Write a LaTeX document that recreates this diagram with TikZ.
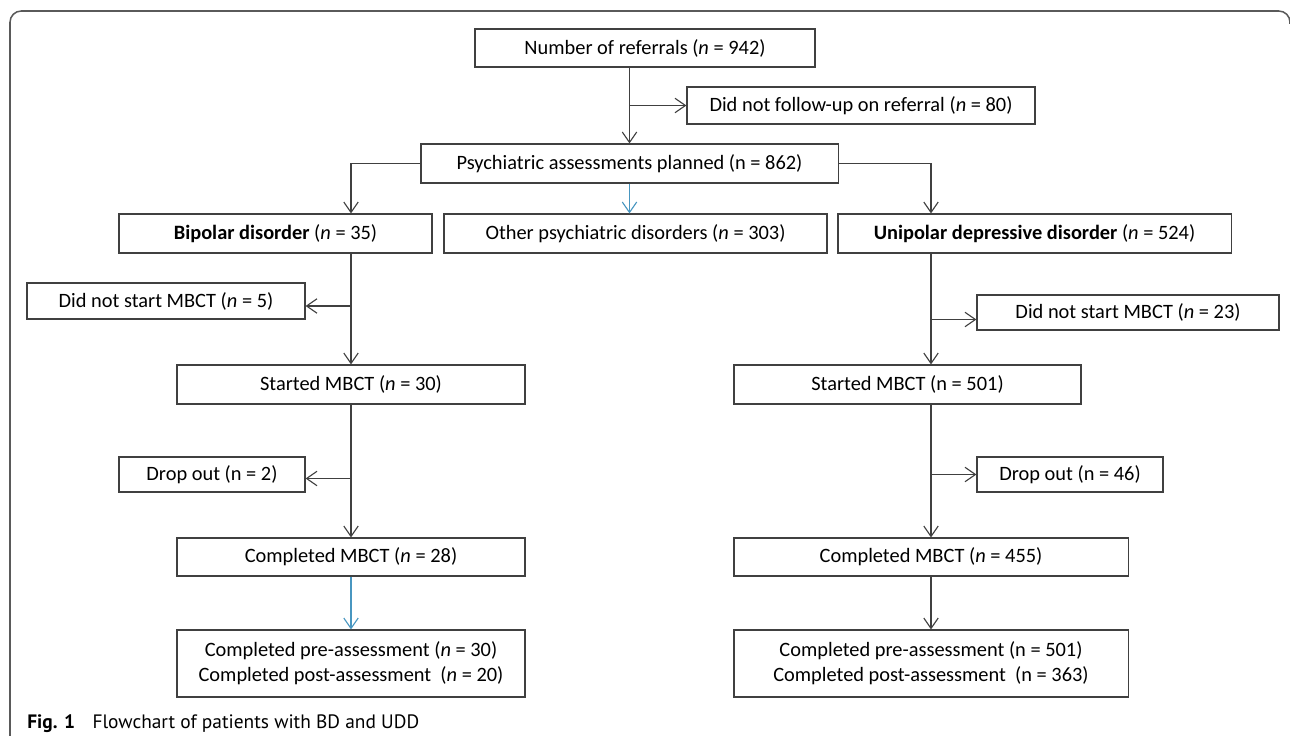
\documentclass[tikz,border=0pt]{standalone}
\usepackage{fontspec}
\setmainfont{Carlito}
\newfontfamily\captionfont{PT Sans}
\usepackage{tikz}
\usetikzlibrary{positioning,arrows.meta,calc}
\definecolor{linegray}{RGB}{64,64,64}
\definecolor{arrowblue}{RGB}{72,150,192}
\definecolor{framegray}{RGB}{90,90,90}

\begin{document}
\begin{tikzpicture}[x=0.025cm, y=-0.025cm,
    flowbox/.style={draw=linegray, line width=0.8pt, rectangle, inner sep=0pt, align=center, minimum height=0.975cm, font=\fontsize{14.5}{17.8}\selectfont},
    flowarrow/.style={draw=linegray, line width=0.8pt, -{Straight Barb[length=2.6mm,width=3.6mm]}}]
            \useasboundingbox (0,0) rectangle (1290,736);
            \draw[framegray, line width=1.1pt, rounded corners=8pt] (1290,24)--(1290,11)--(10,11)--(10,760);

            \node[flowbox, minimum width=8.5cm, minimum height=0.95cm] (referrals) at (645,48) {Number of referrals (\textit{n} = 942)};
            \node[flowbox, minimum width=8.7cm, minimum height=0.925cm] (nofollowup) at (861,105.5) {Did not follow-up on referral (\textit{n} = 80)};
            \node[flowbox, minimum width=10.425cm] (psychplanned) at (629.5,163.5) {Psychiatric assessments planned (n = 862)};
            \draw[flowarrow](referrals.south -| psychplanned.north)--(psychplanned.north);
            \draw[flowarrow](nofollowup.west -| psychplanned.north)--(nofollowup.west);

            \node[flowbox, minimum width=7.825cm] (bipolar) at (275.5,233.5) {\textbf{Bipolar disorder} (\textit{n} = 35)};
            \node[flowbox, minimum width=9.575cm] (otherdis) at (635.5,233.5) {Other psychiatric disorders (\textit{n} = 303)};
            \node[flowbox, minimum width=9.825cm] (unipolar) at (1034.5,233.5) {\textbf{Unipolar depressive disorder} (\textit{n} = 524)};

            % bipolar branch
            \node[flowbox, minimum width=6.95cm, minimum height=0.9cm] (bpnostart) at (166,301) {Did not start MBCT (\textit{n} = 5)};
            \node[flowbox, minimum width=8.7cm] (bpstarted) at (351,384.5) {Started MBCT (\textit{n} = 30)};
            \node[flowbox, minimum width=4.65cm, minimum height=0.875cm] (bpdropout) at (212,474.5) {Drop out (n = 2)};
            \node[flowbox, minimum width=8.7cm, minimum height=0.95cm] (bpcompleted) at (351,557) {Completed MBCT (\textit{n} = 28)};
            \node[flowbox, minimum width=8.7cm, minimum height=1.675cm] (bpassess) at (351,663.5) {Completed pre-assessment (\textit{n} = 30)\\Completed post-assessment~ (\textit{n} = 20)};
            \coordinate (bpnostartin) at ($(bpnostart.east)+(0,5)$);
            \coordinate (bpdropoutin) at ($(bpdropout.east)+(0,4)$);
            \draw[flowarrow](psychplanned.west) -| (bpstarted.north |- bipolar.north);
            \draw[flowarrow](bpstarted.north |- bipolar.south)--(bpstarted.north);
            \draw[flowarrow](bpnostartin -| bpstarted.north)--(bpnostartin);
            \draw[flowarrow](bpstarted.south)--(bpcompleted.north);
            \draw[flowarrow](bpdropoutin -| bpstarted.south)--(bpdropoutin);
            \draw[flowarrow, draw=arrowblue](bpcompleted.south)--(bpassess.north);

            % other disorders
            \draw[flowarrow, draw=arrowblue](psychplanned.south)--(psychplanned.south |- otherdis.north);

            % unipolar branch
            \node[flowbox, minimum width=7.55cm, minimum height=0.875cm] (udnostart) at (1128,312.5) {Did not start MBCT (\textit{n} = 23)};
            \node[flowbox, minimum width=8.675cm] (udstarted) at (907.5,384.5) {Started MBCT (n = 501)};
            \node[flowbox, minimum width=4.65cm, minimum height=0.875cm] (uddropout) at (1070,474.5) {Drop out (n = 46)};
            \node[flowbox, minimum width=9.85cm, minimum height=0.95cm] (udcompleted) at (931,557) {Completed MBCT (\textit{n} = 455)};
            \node[flowbox, minimum width=9.85cm, minimum height=1.675cm] (udassess) at (931,663.5) {Completed pre-assessment (n = 501)\\Completed post-assessment~ (n = 363)};
            \coordinate (udnostartin) at ($(udnostart.west)+(0,7)$);
            \draw[flowarrow](psychplanned.east) -| (udcompleted.north |- unipolar.north);
            \draw[flowarrow](udcompleted.north |- unipolar.south)--(udcompleted.north |- udstarted.north);
            \draw[flowarrow](udnostartin -| udcompleted.north)--(udnostartin);
            \draw[flowarrow](udcompleted.north |- udstarted.south)--(udcompleted.north);
            \draw[flowarrow](uddropout.west -| udcompleted.north)--(uddropout.west);
            \draw[flowarrow](udcompleted.south)--(udassess.north);

            \node[anchor=base west, inner sep=0pt, font=\captionfont\fontsize{13.8}{16}\selectfont] (caption) at (27,728) {\textbf{Fig. 1}\hspace{0.9em}Flowchart of patients with BD and UDD};
        \end{tikzpicture}
\end{document}
